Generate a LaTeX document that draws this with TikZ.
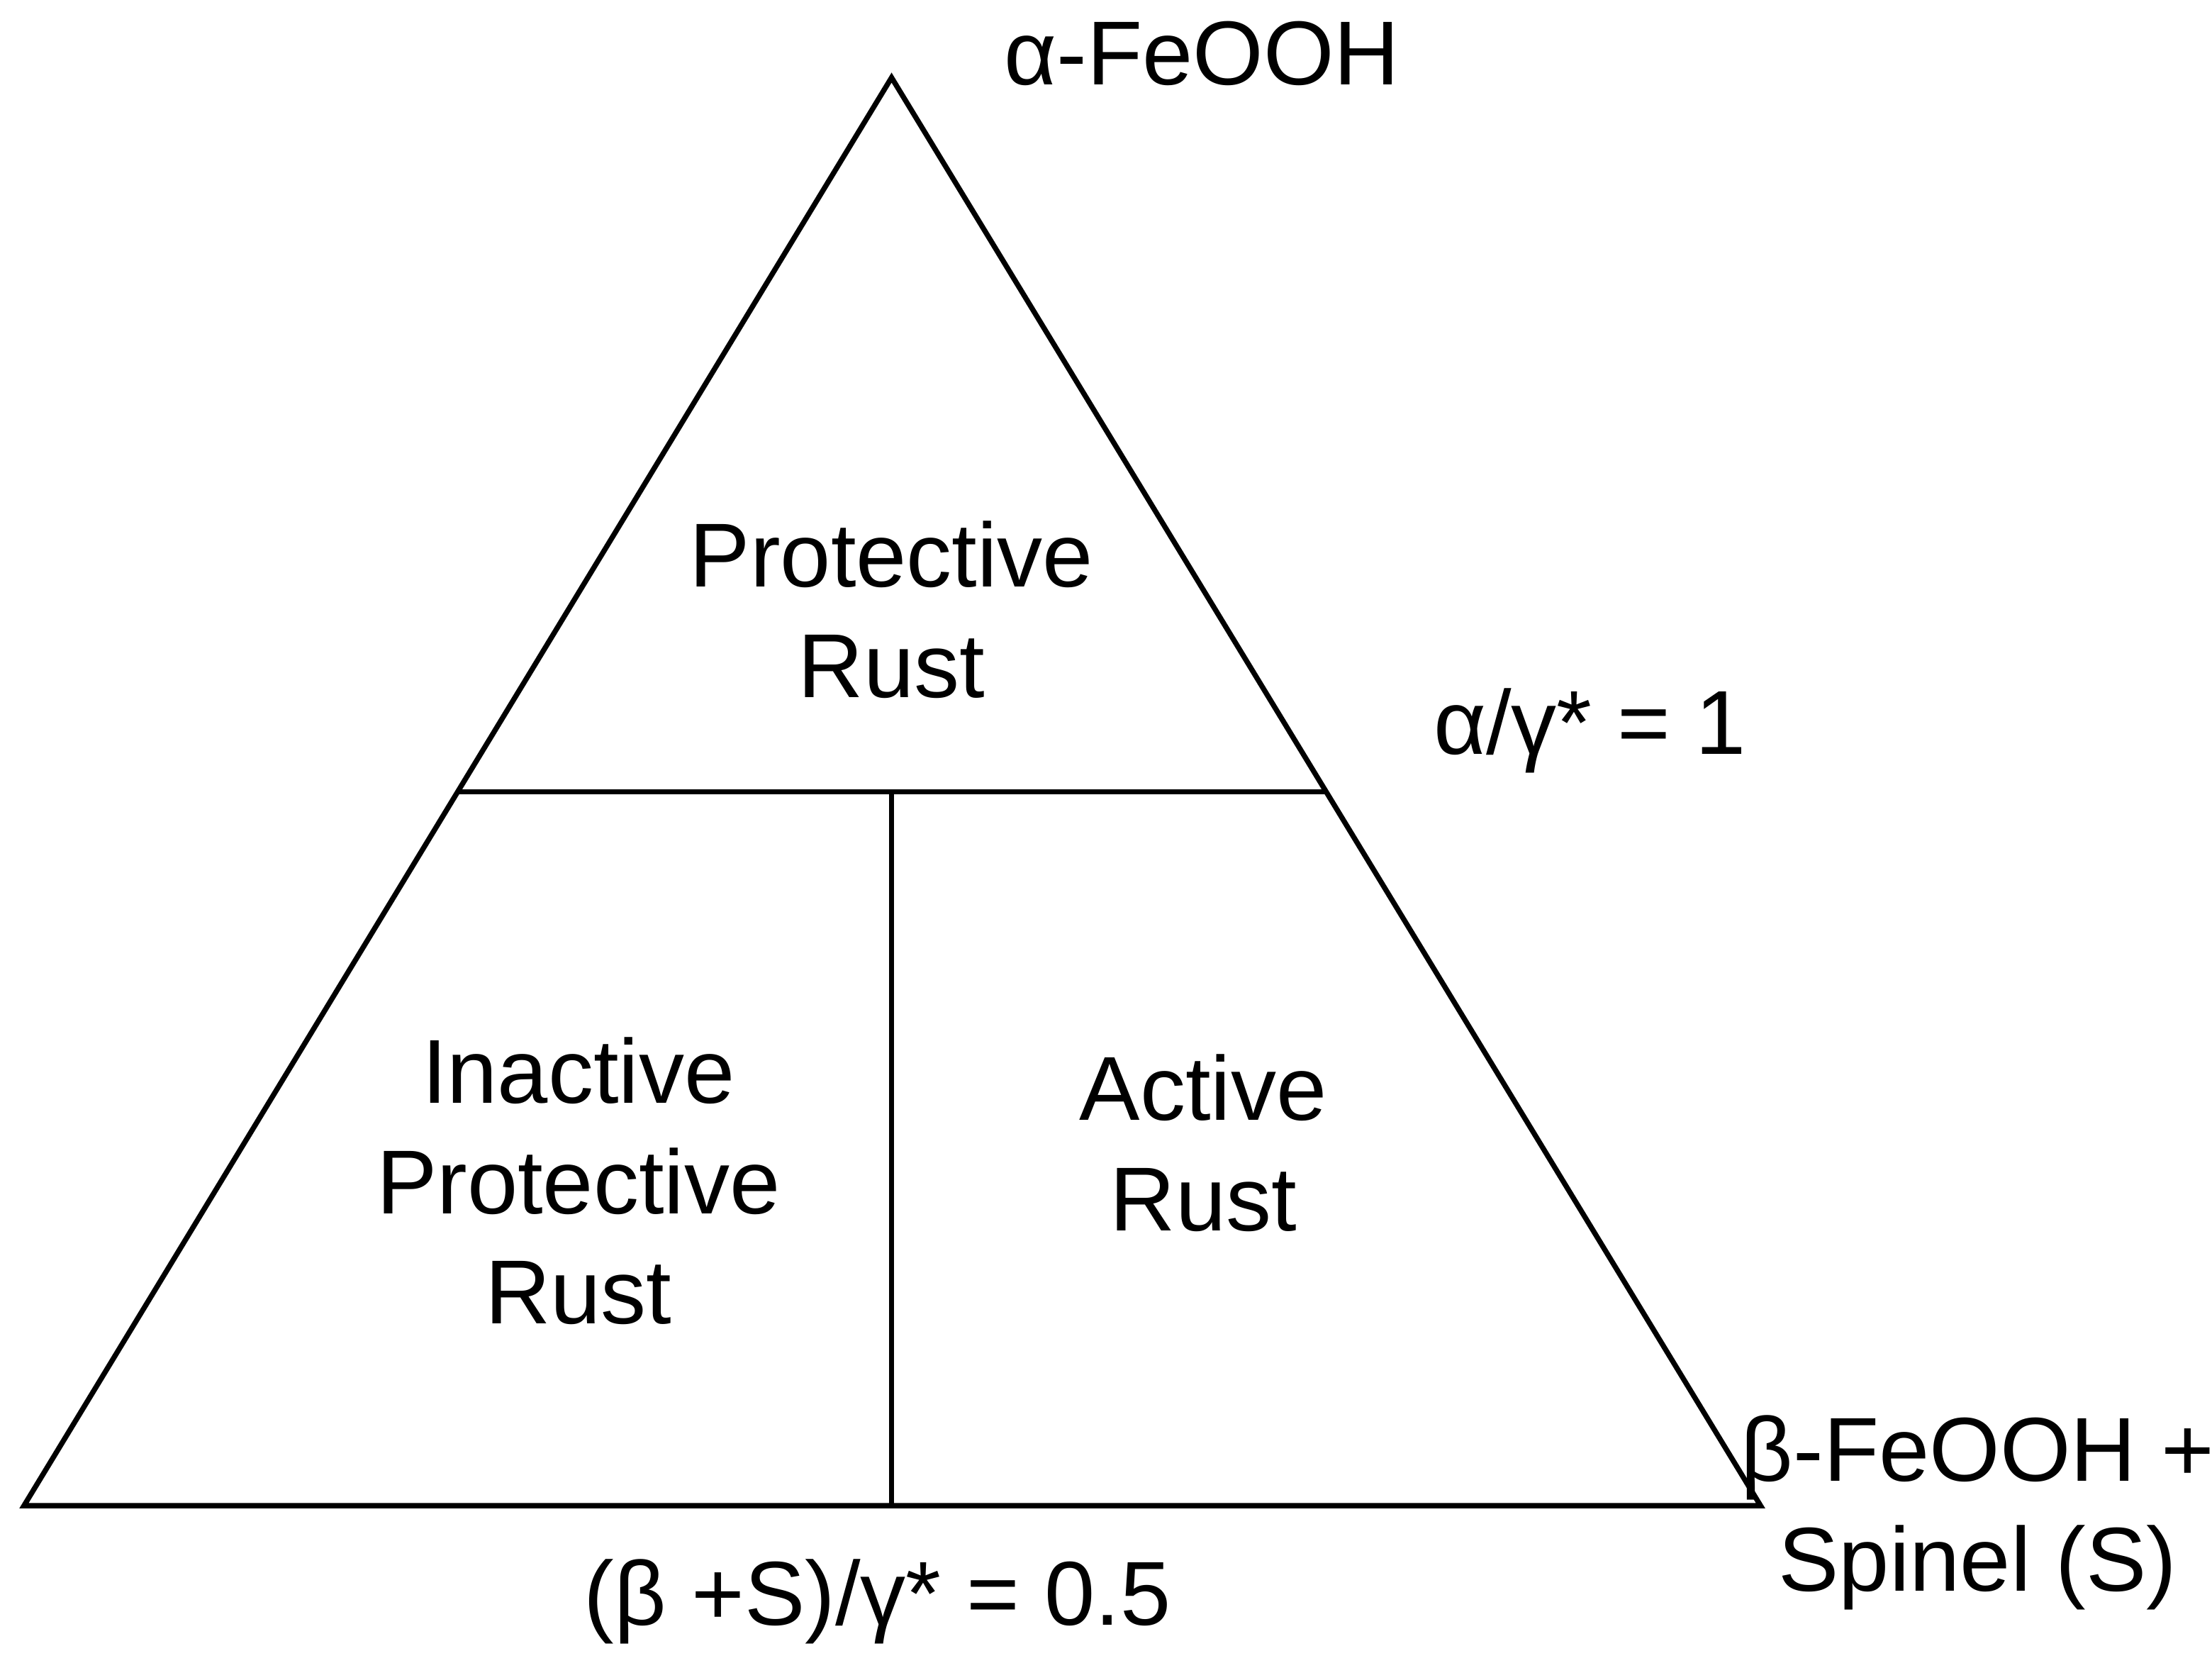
\documentclass[tikz,border=0pt]{standalone}
\usepackage{fontspec}
\setmainfont{Liberation Sans}
\begin{document}
\begin{tikzpicture}[x=0.01cm,y=-0.01cm,
  lab/.style={font=\fontsize{18.3}{22.2}\selectfont,align=center,inner sep=0pt},
  ln/.style={line width=1.05pt}]
\useasboundingbox (0,0) rectangle (1568,1182);
\coordinate (A) at (632,55);
\coordinate (B) at (17,1067);
\coordinate (C) at (1248,1067);
\coordinate (L) at (324,561);
\coordinate (R) at (940,561);
\coordinate (M) at (632,561);
\coordinate (N) at (632,1067);
\draw[ln,line join=miter] (A) -- (B) -- (C) -- cycle;
\draw[ln] (L) -- (R);
\draw[ln] (M) -- (N);
\node[lab] (t1) at (852,38) {α-FeOOH};
\node[lab] (t2) at (632,432) {Protective\\Rust};
\node[lab] (t3) at (1127,518) {α/γ* = 1};
\node[lab] (t4) at (410,837) {Inactive\\Protective\\Rust};
\node[lab] (t5) at (853,810) {Active\\Rust};
\node[lab] (t6) at (1402,1072) {β-FeOOH +\\Spinel (S)};
\node[lab] (t7) at (622,1135) {(β +S)/γ* = 0.5};
\end{tikzpicture}
\end{document}
